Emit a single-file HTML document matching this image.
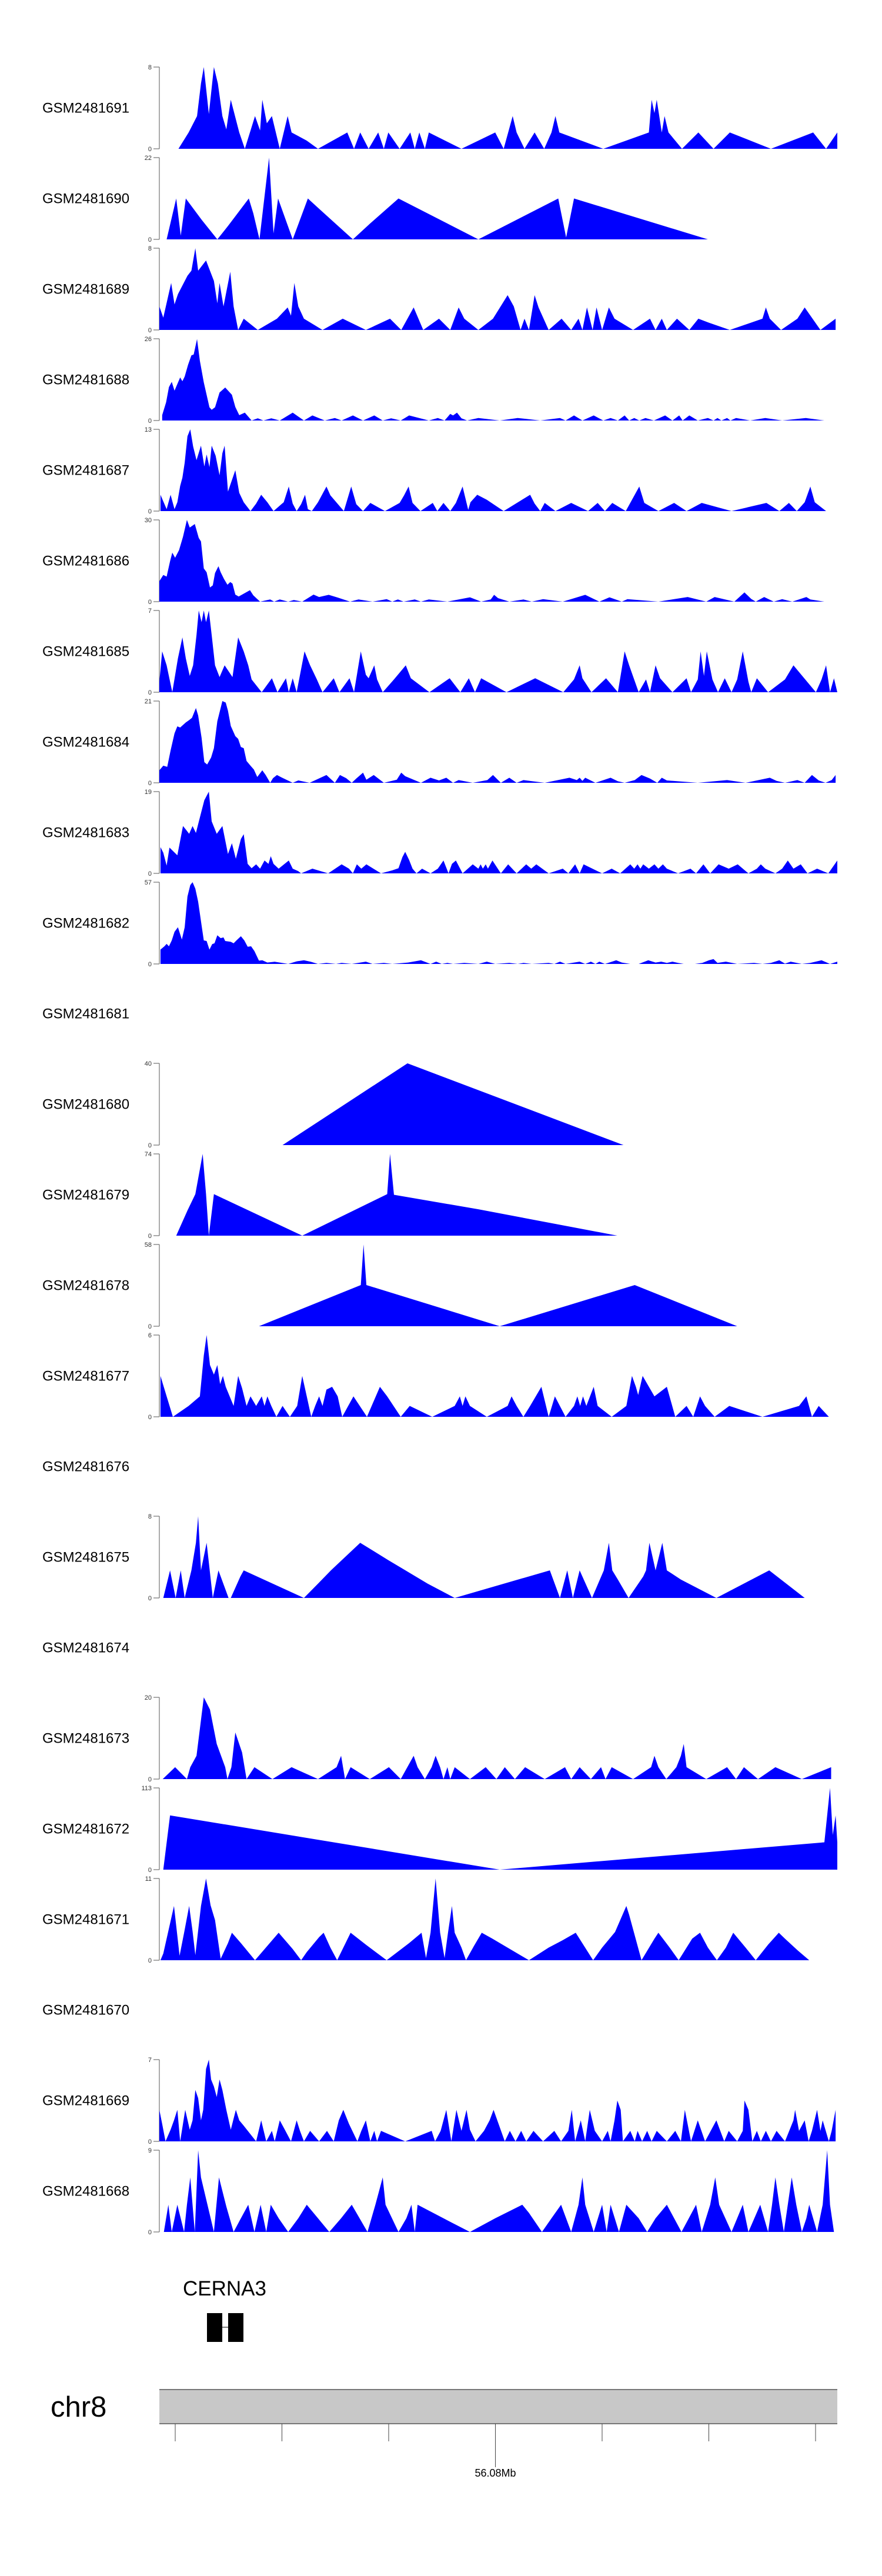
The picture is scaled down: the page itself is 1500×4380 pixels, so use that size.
<!DOCTYPE html>
<html><head><meta charset="utf-8">
<style>
html,body{margin:0;padding:0;background:#fff;}
svg{display:block;font-family:"Liberation Sans",Arial,sans-serif;}
</style></head>
<body>
<svg id="chart" xmlns="http://www.w3.org/2000/svg" width="1500" height="4380" viewBox="0 0 1500 4380">
  <g id="tracks"></g>
  <g id="gene">
    <text x="311" y="3903" font-size="35" fill="#000">CERNA3</text>
    <line x1="378" y1="3957" x2="388" y2="3957" stroke="#000" stroke-width="1"/>
    <rect x="352" y="3933" width="26" height="49" fill="#000"/>
    <rect x="388" y="3933" width="26" height="49" fill="#000"/>
  </g>
  <g id="ideo">
    <text x="86" y="4109" font-size="49" fill="#000">chr8</text>
    <rect x="271" y="4063" width="1153" height="58" fill="#c8c8c8"/>
    <line x1="271" y1="4063" x2="1424" y2="4063" stroke="#777" stroke-width="2"/>
    <line x1="271" y1="4121" x2="1424" y2="4121" stroke="#777" stroke-width="2"/>
    <g id="gticks"></g>
  </g>
</svg>
<script>
const trackNames = ["GSM2481691","GSM2481690","GSM2481689","GSM2481688","GSM2481687","GSM2481686","GSM2481685","GSM2481684","GSM2481683","GSM2481682","GSM2481681","GSM2481680","GSM2481679","GSM2481678","GSM2481677","GSM2481676","GSM2481675","GSM2481674","GSM2481673","GSM2481672","GSM2481671","GSM2481670","GSM2481669","GSM2481668"];
const trackMax = [8,22,8,26,13,30,7,21,19,57,null,40,74,58,6,null,8,null,20,113,11,null,7,9];
const genomeTicks = [310,485,660,835,1010,1185,1360];
const genomeTickLabels = {835:"56.08Mb"};
const t1691=[[317,0],[335,1.6],[350,3.2],[357,6.4],[362,8],[371,3.4],[380,8],[387,6.4],[395,3.2],[402,1.9],[410,4.8],[425,1.6],[435,0],[453,3.2],[462,1.8],[466,4.8],[474,2.5],[483,3.2],[497,0],[511,3.2],[518,1.6],[545,0.8],[565,0],[617,1.6],[629,0],[640,1.6],[655,0],[672,1.6],[682,0],[690,1.6],[710,0],[729,1.6],[737,0],[745,1.6],[755,0],[762,1.6],[820,0],[880,1.6],[895,0],[911,3.2],[918,1.6],[932,0],[950,1.6],[967,0],[980,1.6],[987,3.2],[994,1.6],[1072,0],[1153,1.6],[1158,4.8],[1163,3.5],[1167,4.8],[1176,1.6],[1181,3.2],[1188,1.6],[1212,0],[1241,1.6],[1268,0],[1297,1.6],[1370,0],[1445,1.6],[1468,0],[1488,1.6]];
const t1690=[[296,0],[313,11],[321,1],[330,11],[358,5.3],[386,0],[405,3.6],[442,11],[450,7],[461,0],[478,22],[486,1.6],[494,11],[520,0],[547,11],[565,8.5],[627,0],[657,4.2],[708,11],[850,0],[992,11],[1006,0.5],[1020,11],[1258,0]];
const t1689=[[283,2.3],[290,1.2],[304,4.6],[310,2.5],[316,3.5],[333,5.3],[340,5.8],[347,8],[352,5.8],[366,6.8],[380,4.8],[386,2.6],[390,4.6],[397,2.3],[409,5.7],[415,2.3],[423,0],[433,1.1],[458,0],[492,1.1],[511,2.2],[517,1.4],[523,4.6],[530,2.3],[540,1.1],[573,0],[609,1.1],[650,0],[693,1.1],[713,0],[735,2.2],[752,0],[780,1.1],[800,0],[815,2.2],[825,1.1],[850,0],[876,1.1],[902,3.4],[913,2.3],[925,0],[932,1.1],[940,0],[950,3.4],[957,2.2],[975,0],[998,1.1],[1015,0],[1028,1.1],[1035,0],[1043,2.2],[1053,0],[1060,2.2],[1070,0],[1082,2.2],[1092,1.1],[1125,0],[1155,1.1],[1165,0],[1176,1.1],[1185,0],[1203,1.1],[1225,0],[1241,1.1],[1260,0.7],[1297,0],[1355,1.1],[1361,2.2],[1368,1.1],[1388,0],[1417,1.1],[1430,2.2],[1458,0],[1485,1.1]];
const t1688=[[288,1.7],[295,5.8],[300,10.6],[305,12.3],[310,9.5],[320,13.7],[324,12.5],[328,14],[334,17.7],[340,20.7],[344,21],[350,25.9],[355,19],[362,12.1],[372,4.2],[376,3.4],[382,4.2],[390,8.9],[400,10.5],[412,8.2],[418,4.3],[425,1.7],[435,2.5],[447,0],[458,0.7],[468,0],[482,0.7],[497,0],[520,2.5],[540,0],[555,1.6],[577,0],[595,0.8],[607,0],[627,1.6],[645,0],[665,1.6],[680,0],[695,0.7],[712,0],[727,1.6],[762,0],[778,0.8],[790,0],[800,2.1],[805,1.6],[812,2.5],[820,0.7],[830,0],[850,0.8],[888,0],[920,0.8],[960,0],[995,0.8],[1005,0],[1020,1.6],[1035,0],[1055,1.6],[1072,0],[1085,0.8],[1098,0],[1110,1.6],[1118,0],[1127,0.8],[1136,0],[1147,0.8],[1162,0],[1182,1.6],[1195,0],[1207,1.6],[1213,0],[1225,1.6],[1240,0],[1258,0.8],[1268,0],[1275,0.8],[1282,0],[1292,0.8],[1298,0],[1308,0.8],[1333,0],[1360,0.8],[1390,0],[1432,0.8],[1465,0]];
const t1687=[[285,2.6],[296,0.3],[303,2.6],[310,0.3],[315,1.4],[320,4],[324,5.3],[328,7.7],[333,11.9],[338,13],[343,10.3],[349,8.1],[357,10.4],[363,7.1],[367,9],[372,7],[376,10.4],[383,8.8],[390,5.7],[395,9.2],[399,10.4],[405,3.1],[418,6.5],[425,2.9],[433,1.4],[445,0],[455,1.2],[464,2.6],[475,1.4],[486,0],[500,1.1],[504,1.4],[513,3.9],[520,1.2],[527,0],[535,1.1],[542,2.6],[547,0.3],[554,0],[565,1.4],[580,3.9],[587,2.5],[611,0],[624,3.9],[633,1.1],[645,0],[658,1.3],[684,0],[710,1.3],[718,2.5],[726,3.9],[733,1.3],[747,0],[769,1.3],[777,0],[788,1.3],[800,0],[810,1.3],[822,3.9],[832,0.2],[836,1.4],[848,2.6],[865,1.8],[895,0],[942,2.6],[950,1.2],[960,0],[968,1.3],[987,0],[1015,1.3],[1045,0],[1062,1.3],[1075,0],[1088,1.3],[1112,0],[1136,3.9],[1145,1.3],[1170,0],[1198,1.3],[1220,0],[1247,1.3],[1300,0],[1362,1.3],[1385,0],[1402,1.3],[1416,0],[1430,1.4],[1440,3.9],[1448,1.4],[1468,0]];
const t1686=[[283,7.5],[290,9.8],[296,9.2],[302,14.8],[306,18],[311,16.1],[318,18.9],[325,23.8],[332,30],[337,27.2],[346,28.5],[353,23.4],[357,22.1],[362,12.2],[367,10.8],[373,5.2],[378,6],[382,10.5],[388,13],[392,10.8],[398,8.3],[404,6.2],[409,7.2],[413,6.6],[418,2.6],[424,1.9],[444,4.2],[450,2.3],[462,0],[480,0.8],[487,0],[497,0.8],[512,0],[522,0.6],[537,0],[557,2.6],[567,1.7],[584,2.5],[600,1.5],[622,0],[637,0.8],[662,0],[687,0.9],[697,0],[707,0.8],[717,0],[737,0.8],[748,0],[762,0.8],[795,0],[835,1.6],[855,0],[872,0.8],[878,2.5],[885,1.3],[905,0],[930,0.8],[945,0],[965,0.9],[1000,0],[1040,2.5],[1065,0],[1083,1.6],[1105,0],[1115,0.9],[1170,0],[1222,1.7],[1255,0],[1270,1.7],[1305,0],[1323,3.4],[1335,1],[1343,0],[1358,1.7],[1375,0],[1390,0.9],[1408,0],[1433,1.7],[1440,0.8],[1465,0]];
const t1685=[[283,0.9],[288,3.5],[296,2.3],[306,0],[316,2.9],[324,4.7],[330,2.9],[337,1.4],[343,2.3],[349,4.9],[353,7],[358,6],[362,7],[366,6],[371,7],[376,4.9],[382,2.3],[390,1.3],[399,2.3],[406,1.8],[413,1.3],[423,4.7],[433,3.5],[441,2.3],[447,1.1],[465,0],[483,1.2],[493,0],[508,1.2],[513,0],[520,1.2],[527,0],[541,3.5],[551,2.3],[563,1.1],[573,0],[593,1.2],[603,0],[621,1.2],[629,0],[641,3.5],[650,1.5],[655,1.2],[665,2.3],[670,1.1],[680,0],[700,1.1],[721,2.3],[730,1.2],[763,0],[799,1.2],[818,0],[833,1.2],[844,0],[855,1.2],[900,0],[951,1.2],[1001,0],[1020,1.1],[1030,2.3],[1035,1.2],[1051,0],[1077,1.2],[1098,0],[1110,3.5],[1118,2.3],[1135,0],[1148,1.1],[1155,0],[1165,2.3],[1173,1.2],[1195,0],[1220,1.2],[1228,0],[1240,1.1],[1245,3.5],[1251,1.4],[1256,3.5],[1266,1.1],[1276,0],[1288,1.2],[1300,0],[1310,1.1],[1320,3.5],[1330,0.9],[1335,0],[1345,1.2],[1365,0],[1395,1.1],[1410,2.3],[1450,0],[1460,1.1],[1468,2.3],[1475,0],[1482,1.2],[1488,0]];
const t1684=[[283,3.2],[290,4.4],[297,4.1],[303,8.3],[310,12.7],[315,14.5],[320,14.2],[330,15.5],[336,16.1],[341,16.7],[348,19.2],[352,17.3],[358,11.6],[363,5.3],[368,4.7],[375,6.5],[380,8.9],[386,15.8],[395,21],[401,20.6],[405,18.5],[410,14.6],[418,12],[423,11.3],[428,9.2],[433,8.9],[438,5.6],[445,4.4],[451,3.4],[457,1.5],[466,3.2],[472,2],[480,0],[485,1.2],[492,2],[500,1.4],[520,0],[530,0.6],[550,0],[580,2],[595,0],[604,2],[615,1.2],[625,0],[633,1.1],[645,2.6],[651,0.8],[664,2],[682,0],[705,0.8],[713,2.6],[720,1.7],[748,0],[765,1.3],[780,0.6],[793,1.3],[805,0],[815,0.7],[840,0],[866,0.7],[876,2],[890,0],[905,1.3],[918,0],[930,0.7],[968,0],[1012,1.3],[1025,0.7],[1030,1.3],[1035,0.5],[1040,1.3],[1058,0],[1085,1.3],[1098,0.4],[1110,0],[1128,0.7],[1140,2],[1155,1.1],[1168,0],[1176,1.3],[1185,0.6],[1240,0],[1292,0.7],[1325,0],[1368,1.3],[1380,0.5],[1395,0],[1417,0.7],[1430,0],[1443,2],[1455,0.6],[1467,0],[1478,0.7],[1485,2]];
const t1683=[[285,6.1],[290,4.8],[296,1.8],[301,6],[315,4.2],[325,11],[330,10.2],[336,9.2],[342,11],[348,9.4],[357,14],[363,17],[371,19],[376,12.1],[385,9.2],[395,11],[405,4.5],[412,7],[419,3.4],[428,8],[433,9.1],[440,2.2],[447,1.2],[455,2.1],[462,1.1],[470,3],[477,2.2],[481,4],[486,2.2],[495,1.1],[513,3],[520,1.1],[530,0.5],[535,0],[555,1.1],[583,0],[607,2.1],[620,1.1],[627,0],[634,2.1],[642,1.1],[651,2.1],[677,0],[697,0.7],[708,1.2],[715,3.8],[720,5],[727,3.1],[733,1.1],[740,0],[750,1.1],[765,0],[778,1.1],[788,3],[797,0],[803,2.2],[810,3],[822,0],[840,2.1],[850,1.1],[854,2.1],[858,1.1],[863,2.1],[867,1.1],[875,3],[890,0],[903,2.1],[918,0],[935,2.1],[944,1.1],[953,2.1],[975,0],[1000,1.1],[1010,0],[1022,2.1],[1030,0],[1037,2.1],[1070,0],[1087,1.1],[1102,0],[1120,2.1],[1127,1.1],[1133,2.1],[1138,1.1],[1143,2.1],[1153,1.1],[1163,2.1],[1170,1.1],[1178,2.1],[1185,1.1],[1205,0],[1227,1.1],[1237,0],[1250,2.1],[1262,0],[1277,2.1],[1295,1.1],[1311,2.1],[1330,0],[1345,1.1],[1352,2.1],[1360,1.1],[1378,0],[1390,1.1],[1400,3],[1410,1.1],[1423,2.1],[1435,0],[1452,1.1],[1472,0],[1488,3]];
const t1682=[[285,10],[292,12.3],[296,14],[300,12.3],[305,16.4],[310,22.4],[316,25.6],[323,17],[328,25.6],[333,47],[338,55],[342,57],[347,52.5],[352,43.4],[358,27],[362,16.4],[367,16],[372,10],[377,13.8],[381,14.4],[386,20],[392,18],[397,18.5],[400,16],[410,15.4],[415,14.4],[420,16.4],[428,19.3],[434,16.4],[440,12],[446,12.3],[452,9],[460,2.3],[466,2.6],[475,1],[488,1.5],[497,1],[512,0],[527,1.8],[540,2.6],[552,1.5],[565,0],[580,0.7],[597,0],[607,0.7],[625,0],[650,1.6],[662,0],[682,0.7],[697,0],[725,1],[748,2.6],[765,0],[775,1.6],[785,0],[795,0.7],[805,0],[825,0.7],[850,0],[865,1.6],[880,0],[905,0.7],[920,0],[930,0.7],[945,0],[975,0.7],[985,0],[995,1.6],[1005,0],[1030,1.6],[1040,0],[1050,1.6],[1058,0],[1065,1.6],[1075,0],[1095,2.6],[1105,1],[1120,0],[1135,0],[1152,2.6],[1165,1],[1175,1.6],[1185,0.7],[1195,1.6],[1205,0.7],[1215,0],[1235,0],[1248,0.7],[1260,2.6],[1268,3.4],[1275,0.7],[1290,1.6],[1310,0],[1340,0.7],[1355,0],[1370,0.7],[1385,2.6],[1395,0.2],[1405,1.6],[1425,0],[1440,0.7],[1460,2.6],[1475,0],[1488,1.6]];
const t1681=[];
const t1680=[[502,0],[724,40],[1108,0]];
const t1679=[[313,0],[333,22.8],[347,37.6],[360,74],[366,37.6],[371,0],[380,37.6],[537,0],[688,37.6],[693,74],[700,37],[850,23.9],[1097,0]];
const t1678=[[460,0],[641,29.2],[646,58],[651,29.2],[888,0],[1128,29.2],[1310,0]];
const t1677=[[285,3],[296,1.5],[307,0],[335,0.8],[355,1.5],[362,4.5],[367,6],[373,3.8],[380,3.1],[386,3.8],[391,2.4],[396,3],[401,2.2],[415,0.8],[423,3],[430,2.1],[438,0.8],[445,1.5],[455,0.8],[465,1.5],[470,0.8],[475,1.5],[482,0.8],[491,0],[502,0.8],[515,0],[528,0.8],[537,3],[545,1.5],[553,0],[560,0.8],[567,1.5],[573,0.8],[580,2],[590,2.2],[600,1.5],[608,0],[628,1.5],[652,0],[675,2.2],[688,1.5],[712,0],[728,0.8],[768,0],[808,0.8],[817,1.5],[822,0.8],[827,1.5],[835,0.8],[865,0],[902,0.8],[909,1.5],[918,0.8],[930,0],[942,0.8],[962,2.2],[975,0],[986,1.5],[1005,0],[1020,0.8],[1026,1.5],[1031,0.8],[1036,1.5],[1042,0.8],[1055,2.2],[1062,0.8],[1087,0],[1113,0.8],[1123,3],[1130,2.2],[1134,1.6],[1142,3],[1163,1.5],[1185,2.2],[1200,0],[1220,0.8],[1232,0],[1244,1.5],[1253,0.8],[1270,0],[1296,0.8],[1355,0],[1420,0.8],[1433,1.5],[1443,0],[1455,0.8],[1473,0]];
const t1676=[];
const t1675=[[290,0],[302,2.7],[312,0],[321,2.7],[328,0],[340,2.7],[348,5.4],[352,8],[357,2.7],[367,5.4],[378,0],[388,2.7],[406,0],[410,0],[427,2.1],[433,2.7],[540,0],[565,1.4],[588,2.7],[640,5.4],[690,3.7],[760,1.4],[808,0],[977,2.7],[995,0],[1008,2.7],[1018,0],[1030,2.7],[1052,0],[1073,2.7],[1082,5.4],[1088,2.7],[1098,1.8],[1117,0],[1143,2.1],[1148,2.7],[1154,5.4],[1165,2.7],[1177,5.4],[1185,2.7],[1210,1.8],[1273,0],[1367,2.7],[1430,0]];
const t1674=[];
const t1673=[[289,0],[311,2.9],[332,0],[338,2.9],[349,5.7],[362,20],[373,17],[385,8.6],[400,2.9],[404,0],[411,2.9],[418,11.4],[430,6.5],[438,0],[452,2.9],[484,0],[518,2.9],[565,0],[598,2.9],[606,5.7],[613,0],[623,2.9],[657,0],[691,2.9],[712,0],[735,5.7],[742,2.9],[755,0],[767,2.9],[774,5.7],[782,2.9],[788,0],[795,2.9],[800,0],[808,2.9],[835,0],[863,2.9],[882,0],[897,2.9],[915,0],[933,2.9],[968,0],[1004,2.9],[1015,0],[1030,2.9],[1050,0],[1068,2.9],[1076,0],[1087,2.9],[1125,0],[1157,2.9],[1163,5.7],[1170,2.9],[1184,0],[1202,2.9],[1210,5.7],[1215,8.6],[1220,2.9],[1255,0],[1292,2.9],[1308,0],[1322,2.9],[1347,0],[1378,2.9],[1425,0],[1477,2.9]];
const t1672=[[290,0],[302,75],[888,0],[1465,37.8],[1475,113],[1480,48],[1485,75],[1488,37.8]];
const t1671=[[285,0],[290,0.9],[309,7.3],[319,0.6],[327,3.7],[336,7.3],[342,3.9],[347,0.7],[357,7.3],[366,11],[374,7.4],[382,5.4],[392,0.2],[405,2.3],[412,3.7],[428,2.3],[453,0],[495,3.7],[520,1.5],[535,0],[545,1.1],[567,3.1],[575,3.7],[587,1.7],[599,0],[623,3.7],[650,2.1],[687,0],[727,2.3],[749,3.7],[757,0.3],[765,3.7],[774,11],[782,3.7],[790,0.3],[796,3.7],[803,7.3],[808,3.7],[820,1.7],[828,0],[842,1.9],[856,3.7],[875,2.9],[940,0],[975,1.7],[1000,2.7],[1023,3.7],[1054,0],[1070,1.7],[1093,3.8],[1113,7.3],[1118,6.1],[1140,0],[1163,2.9],[1170,3.7],[1190,1.7],[1206,0],[1230,2.9],[1244,3.7],[1258,1.7],[1274,0],[1290,1.7],[1303,3.7],[1325,1.7],[1343,0],[1365,2.1],[1384,3.7],[1395,2.9],[1418,1.3],[1438,0]];
const t1670=[];
const t1669=[[283,2.7],[288,1.5],[294,0],[303,1],[309,1.8],[315,2.7],[320,0],[329,2.7],[337,1],[342,1.8],[347,4.4],[352,3.7],[357,1.8],[361,2.7],[366,6.2],[371,7],[375,5.3],[380,4.7],[385,3.8],[390,5.3],[395,4.4],[402,2.7],[410,1],[419,2.7],[425,1.8],[432,1.4],[455,0],[464,1.8],[473,0],[483,0.9],[488,0],[497,1.8],[506,1],[517,0],[527,1.8],[533,0.9],[540,0],[551,0.9],[567,0],[581,0.9],[593,0],[602,1.8],[610,2.7],[620,1.5],[635,0],[642,0.9],[650,1.8],[658,0],[665,0.9],[670,0],[677,0.9],[720,0],[767,0.9],[773,0],[783,0.9],[793,2.7],[802,0],[808,1.8],[811,2.7],[820,0.9],[829,2.7],[835,1],[845,0],[860,0.9],[870,1.8],[877,2.7],[897,0],[906,0.9],[916,0],[926,0.9],[935,0],[948,0.9],[965,0],[985,0.9],[997,0],[1010,0.9],[1016,2.7],[1022,0],[1032,1.8],[1040,0],[1048,2.7],[1057,0.9],[1070,0],[1080,0.9],[1085,0],[1092,1.8],[1097,3.5],[1103,2.7],[1107,0],[1120,0.9],[1128,0],[1133,0.9],[1141,0],[1150,0.9],[1158,0],[1167,0.9],[1185,0],[1200,0.9],[1210,0],[1217,2.7],[1228,0],[1240,1.8],[1253,0],[1263,0.9],[1273,1.8],[1280,0.9],[1287,0],[1295,0.9],[1310,0],[1320,0.9],[1323,3.5],[1330,2.7],[1337,0],[1345,0.9],[1352,0],[1361,0.9],[1370,0],[1380,0.9],[1395,0],[1410,1.8],[1413,2.7],[1420,0.9],[1430,1.8],[1437,0],[1443,0.9],[1452,2.7],[1458,0.9],[1462,1.8],[1473,0],[1478,0.9],[1485,2.7]];
const t1668=[[291,0],[299,3],[305,0],[315,3],[327,0],[332,3],[338,6],[346,0],[352,9],[357,6],[380,0],[389,6],[402,2.8],[415,0],[428,1.5],[441,3],[452,0],[463,3],[473,0],[481,3],[495,1.5],[512,0],[530,1.5],[545,3],[565,1.5],[585,0],[606,1.5],[625,3],[653,0],[667,3],[680,6],[685,3],[708,0],[722,1.5],[731,3],[737,0],[742,3],[788,1.5],[835,0],[880,1.5],[928,3],[940,2.1],[963,0],[980,1.5],[997,3],[1015,0],[1028,3],[1035,6],[1040,3],[1055,0],[1070,3],[1078,0],[1085,3],[1100,0],[1113,3],[1135,1.5],[1150,0],[1165,1.5],[1185,3],[1211,0],[1237,3],[1247,0],[1262,3],[1271,6],[1278,3],[1300,0],[1320,3],[1330,0],[1351,3],[1365,0],[1372,3],[1378,6],[1385,3],[1393,0],[1407,6],[1415,3],[1425,0],[1433,1.5],[1438,3],[1452,0],[1462,3],[1470,9],[1475,3],[1482,0]];
const trackData=[t1691,t1690,t1689,t1688,t1687,t1686,t1685,t1684,t1683,t1682,t1681,t1680,t1679,t1678,t1677,t1676,t1675,t1674,t1673,t1672,t1671,t1670,t1669,t1668];

const NS="http://www.w3.org/2000/svg";
const X0=271, X1=1424, D0=283, D1=1488;
function xScale(p){return X0+(p-D0)/(D1-D0)*(X1-X0);}
const TOP0=114, PITCH=154, H=139;
function yScale(i,v,max){const base=TOP0+PITCH*i+H;return base-v/max*H;}
function mk(tag,attrs,parent){const e=document.createElementNS(NS,tag);for(const k in attrs)e.setAttribute(k,attrs[k]);parent.appendChild(e);return e;}

const tracksG=document.getElementById('tracks');
trackNames.forEach((name,i)=>{
  const g=mk('g',{},tracksG);
  
  
  const top=TOP0+PITCH*i, base=top+H;
  const lab=mk('text',{x:72,y:top+H/2+8,'font-size':24,fill:'#000'},g);
  
  
  lab.textContent=name;
  const max=trackMax[i], d=trackData[i];
  if(max===null||!d.length) return;
  const ax=mk('line',{x1:X0,y1:top,x2:X0,y2:base,stroke:'#555','stroke-width':1},g);
  
  
  [[max,top],[0,base]].forEach(([v,y])=>{
    const tk=mk('line',{x1:X0-10,y1:y,x2:X0,y2:y,stroke:'#555','stroke-width':1},g);
    
    
    const tl=mk('text',{x:X0-13,y:y+4,'font-size':11,'text-anchor':'end',fill:'#333'},g);
    
    
    tl.textContent=v;
  });
  let pts=xScale(d[0][0]).toFixed(1)+','+base;
  d.forEach(([p,v])=>{pts+=' '+xScale(p).toFixed(1)+','+yScale(i,v,max).toFixed(1);});
  pts+=' '+xScale(d[d.length-1][0]).toFixed(1)+','+base;
  const area=mk('polygon',{points:pts,fill:'#0000ff',stroke:'none'},g);
  
  
});

const gt=document.getElementById('gticks');
const GX=v=>298+(v-310)/(1360-310)*(1387-298);
genomeTicks.forEach(v=>{
  const lab=genomeTickLabels[v];
  const l=mk('line',{x1:GX(v),y1:4121,x2:GX(v),y2:lab?4195:4151,stroke:'#444','stroke-width':1},gt);
  
  
  if(lab){
    const t=mk('text',{x:GX(v),y:4211,'font-size':18,'text-anchor':'middle',fill:'#000'},gt);
    
    
    t.textContent=lab;
  }
});
</script>
</body></html>
